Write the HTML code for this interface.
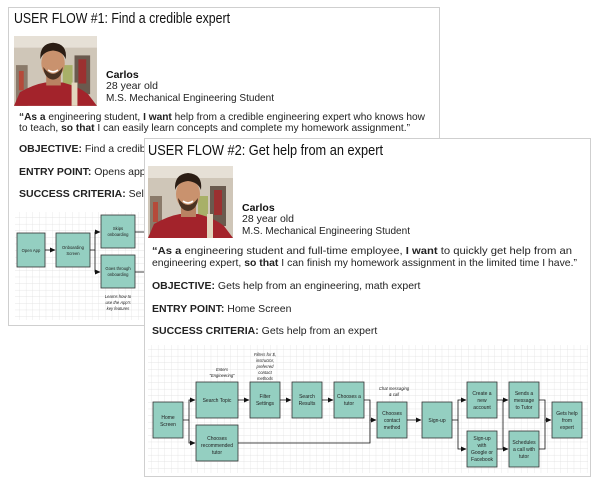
<!DOCTYPE html>
<html><head><meta charset="utf-8"><style>
html,body{margin:0;padding:0;background:#fff;}
svg{display:block;font-family:"Liberation Sans",sans-serif;}
</style></head><body>
<svg width="600" height="484" viewBox="0 0 600 484" xmlns="http://www.w3.org/2000/svg">
<defs>
<pattern id="grid" width="6.6" height="6.6" patternUnits="userSpaceOnUse">
<path d="M6.6 0V6.6H0" fill="none" stroke="#dcdcdc" stroke-width="0.6"/>
</pattern>
<marker id="ar" markerWidth="6" markerHeight="6" refX="5" refY="3" orient="auto" markerUnits="userSpaceOnUse">
<path d="M0,0.5 L5.5,3 L0,5.5z" fill="#111"/>
</marker>
<g id="photo">
<rect width="85" height="72" fill="#cfc6b8"/>
<rect x="0" y="0" width="85" height="12" fill="#e6e0d6"/>
<rect x="2" y="30" width="12" height="42" fill="#8a7a6a"/>
<rect x="5" y="36" width="5" height="20" fill="#b54a3a"/>
<rect x="62" y="20" width="16" height="40" fill="#6a5a4e"/>
<rect x="66" y="24" width="8" height="25" fill="#9b3030"/>
<rect x="50" y="30" width="10" height="22" fill="#a8b068"/>
<path d="M0 72 L6 58 Q20 50 32 48 L50 48 Q66 52 76 60 L85 72z" fill="#a3232b"/>
<rect x="59" y="48" width="6" height="24" fill="#e2d6be"/>
<rect x="33" y="38" width="15" height="13" fill="#b98262"/>
<ellipse cx="40" cy="28" rx="12" ry="15" fill="#c9926e"/>
<path d="M27 24 Q26 8 40 7 Q55 8 53 24 Q50 16 40 15 Q30 16 27 24z" fill="#2b1d14"/>
<path d="M30 32 Q40 46 50 32 Q49 44 40 45 Q31 44 30 32z" fill="#4a3222"/>
<path d="M35 35 Q40 39 45 35" stroke="#fff" stroke-width="1.5" fill="none"/>
</g>
</defs>

<!-- Card 1 -->
<rect x="8.5" y="7.5" width="431" height="318" fill="#fff" stroke="#cfcfcf"/>
<text x="14" y="23" font-size="14.5" fill="#111" textLength="216" lengthAdjust="spacingAndGlyphs">USER FLOW #1: Find a credible expert</text>
<use href="#photo" x="14" y="36" transform="translate(14 36) scale(0.976 0.97) translate(-14 -36)"/>
<text x="106" y="78" font-size="10.5" font-weight="bold" fill="#111">Carlos</text>
<text x="106" y="89" font-size="10.5" fill="#222">28 year old</text>
<text x="106" y="101" font-size="10.5" fill="#222" textLength="168" lengthAdjust="spacingAndGlyphs">M.S. Mechanical Engineering Student</text>
<text x="19" y="120" font-size="10.5" fill="#222" textLength="406" lengthAdjust="spacingAndGlyphs"><tspan font-weight="bold">“As a</tspan> engineering student, <tspan font-weight="bold">I want</tspan> help from a credible engineering expert who knows how</text>
<text x="19" y="131" font-size="10.5" fill="#222" textLength="391" lengthAdjust="spacingAndGlyphs">to teach, <tspan font-weight="bold">so that</tspan> I can easily learn concepts and complete my homework assignment.”</text>
<text x="19" y="152" font-size="10.5" fill="#222"><tspan font-weight="bold">OBJECTIVE:</tspan> Find a credible</text>
<text x="19" y="175" font-size="10.5" fill="#222"><tspan font-weight="bold">ENTRY POINT:</tspan> Opens app fo</text>
<text x="19" y="197" font-size="10.5" fill="#222"><tspan font-weight="bold">SUCCESS CRITERIA:</tspan> Selects c</text>
<rect x="15" y="212" width="129" height="108" fill="url(#grid)"/>
<g fill="#94cfc1" stroke="#333" stroke-width="0.8">
<rect x="17" y="233" width="28" height="34"/>
<rect x="56" y="233" width="34" height="34"/>
<rect x="101" y="215" width="34" height="33"/>
<rect x="101" y="255" width="34" height="33"/>
</g>
<g stroke="#111" stroke-width="0.8" fill="none">
<path d="M45 250H55" marker-end="url(#ar)"/>
<path d="M90 250H95V232H100" marker-end="url(#ar)"/>
<path d="M95 250V272H100" marker-end="url(#ar)"/>
<path d="M135 232H144"/><path d="M135 272H144"/>
</g>
<g font-size="4.2" text-anchor="middle" fill="#222">
<text x="31" y="252">Open App</text>
<text x="73" y="249">Onboarding</text><text x="73" y="255">Screen</text>
<text x="118" y="230">Skips</text><text x="118" y="236">onboarding</text>
<text x="118" y="270">Goes through</text><text x="118" y="276">onboarding</text>
<g font-style="italic"><text x="118" y="298">Learns how to</text><text x="118" y="304">use the App's</text><text x="118" y="310">key features</text></g>
</g>

<!-- Card 2 -->
<rect x="144.5" y="138.5" width="446" height="338" fill="#fff" stroke="#cfcfcf"/>
<text x="148" y="155" font-size="14.5" fill="#111" textLength="235" lengthAdjust="spacingAndGlyphs">USER FLOW #2: Get help from an expert</text>
<use href="#photo" x="148" y="166"/>
<text x="242" y="211" font-size="10.5" font-weight="bold" fill="#111">Carlos</text>
<text x="242" y="222" font-size="10.5" fill="#222">28 year old</text>
<text x="242" y="234" font-size="10.5" fill="#222" textLength="168" lengthAdjust="spacingAndGlyphs">M.S. Mechanical Engineering Student</text>
<text x="152" y="254" font-size="10.5" fill="#222" textLength="420" lengthAdjust="spacingAndGlyphs"><tspan font-weight="bold">“As a</tspan> engineering student and full-time employee, <tspan font-weight="bold">I want</tspan> to quickly get help from an</text>
<text x="152" y="266" font-size="10.5" fill="#222" textLength="425" lengthAdjust="spacingAndGlyphs">engineering expert, <tspan font-weight="bold">so that</tspan> I can finish my homework assignment in the limited time I have.”</text>
<text x="152" y="289" font-size="10.5" fill="#222"><tspan font-weight="bold">OBJECTIVE:</tspan> Gets help from an engineering, math expert</text>
<text x="152" y="312" font-size="10.5" fill="#222"><tspan font-weight="bold">ENTRY POINT:</tspan> Home Screen</text>
<text x="152" y="334" font-size="10.5" fill="#222"><tspan font-weight="bold">SUCCESS CRITERIA:</tspan> Gets help from an expert</text>
<rect x="148" y="345" width="440" height="128" fill="url(#grid)"/>
<g fill="#94cfc1" stroke="#333" stroke-width="0.8">
<rect x="153" y="402" width="30" height="36"/>
<rect x="196" y="382" width="42" height="36"/>
<rect x="196" y="425" width="42" height="36"/>
<rect x="250" y="382" width="30" height="36"/>
<rect x="292" y="382" width="30" height="36"/>
<rect x="334" y="382" width="30" height="36"/>
<rect x="377" y="402" width="30" height="36"/>
<rect x="422" y="402" width="30" height="36"/>
<rect x="467" y="382" width="30" height="36"/>
<rect x="467" y="431" width="30" height="36"/>
<rect x="509" y="382" width="30" height="36"/>
<rect x="509" y="431" width="30" height="36"/>
<rect x="552" y="402" width="30" height="36"/>
</g>
<g stroke="#111" stroke-width="0.8" fill="none">
<path d="M183 420H189V400H195" marker-end="url(#ar)"/>
<path d="M189 420V443H195" marker-end="url(#ar)"/>
<path d="M238 400H249" marker-end="url(#ar)"/>
<path d="M280 400H291" marker-end="url(#ar)"/>
<path d="M322 400H333" marker-end="url(#ar)"/>
<path d="M364 400H370V420H376" marker-end="url(#ar)"/>
<path d="M238 443H370V420"/>
<path d="M407 420H421" marker-end="url(#ar)"/>
<path d="M452 420H458V400H466" marker-end="url(#ar)"/>
<path d="M458 420V449H466" marker-end="url(#ar)"/>
<path d="M497 400H508" marker-end="url(#ar)"/>
<path d="M497 449H508" marker-end="url(#ar)"/>
<path d="M503 400V449"/>
<path d="M539 400H545V420H551" marker-end="url(#ar)"/>
<path d="M539 449H545V420"/>
</g>
<g font-size="5" text-anchor="middle" fill="#222">
<text x="168" y="419">Home</text><text x="168" y="426">Screen</text>
<text x="217" y="402">Search Topic</text>
<text x="217" y="440">Chooses</text><text x="217" y="447">recommended</text><text x="217" y="454">tutor</text>
<text x="265" y="398">Filter</text><text x="265" y="405">Settings</text>
<text x="307" y="398">Search</text><text x="307" y="405">Results</text>
<text x="349" y="398">Chooses a</text><text x="349" y="405">tutor</text>
<text x="392" y="415">Chooses</text><text x="392" y="422">contact</text><text x="392" y="429">method</text>
<text x="437" y="422">Sign-up</text>
<text x="482" y="395">Create a</text><text x="482" y="402">new</text><text x="482" y="409">account</text>
<text x="482" y="440">Sign-up</text><text x="482" y="447">with</text><text x="482" y="454">Google or</text><text x="482" y="461">Facebook</text>
<text x="524" y="395">Sends a</text><text x="524" y="402">message</text><text x="524" y="409">to Tutor</text>
<text x="524" y="444">Schedules</text><text x="524" y="451">a call with</text><text x="524" y="458">tutor</text>
<text x="567" y="415">Gets help</text><text x="567" y="422">from</text><text x="567" y="429">expert</text>
<g font-style="italic" font-size="4.2">
<text x="222" y="371">Enters</text><text x="222" y="377">"Engineering"</text>
<text x="265" y="356">Filters for $,</text><text x="265" y="362">instructor,</text><text x="265" y="368">preferred</text><text x="265" y="374">contact</text><text x="265" y="380">methods</text>
<text x="394" y="390">Chat messaging</text><text x="394" y="396">&amp; call</text>
</g>
</g>
</svg>
</body></html>
